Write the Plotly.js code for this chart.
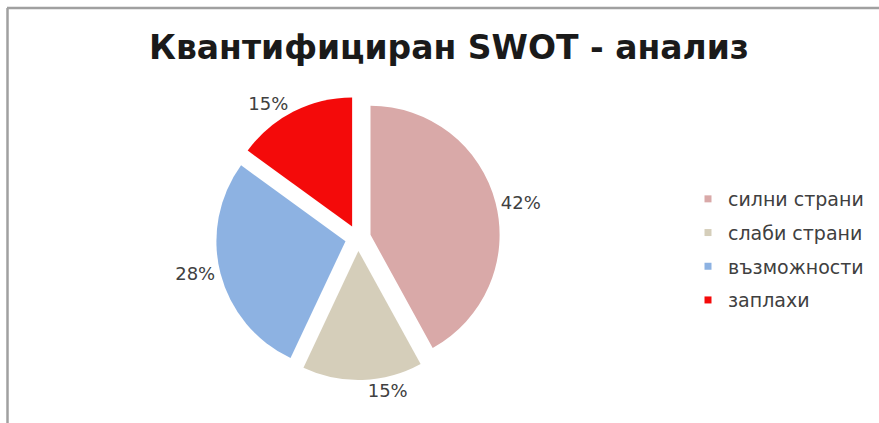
<!DOCTYPE html>
<html>
<head>
<meta charset="utf-8">
<script src="https://cdn.plot.ly/plotly-3.0.1.min.js"></script>
<style>
html,body{margin:0;padding:0;background:#fff;}
#chart{width:879px;height:423px;}
#chart .legend .traces{opacity:1 !important;}
</style>
</head>
<body>
<div id="chart"></div>
<script>
const categories = ['силни страни', 'слаби страни', 'възможности', 'заплахи'];
const values = [42, 15, 28, 15];
const colors = ['#D9A9A8', '#D5CEBA', '#8DB2E2', '#F40A0A'];
const chartTitle = 'Квантифициран SWOT - анализ';

const W = 879, H = 423;

const pie = {
  type: 'pie',
  labels: categories,
  values: values,
  sort: false,
  direction: 'clockwise',
  rotation: 0,
  pull: [0.1, 0.1, 0.1, 0.1],
  marker: {colors: colors, line: {width: 0}},
  textinfo: 'percent',
  texttemplate: '%{percent:.0%}',
  textposition: 'outside',
  outsidetextfont: {family: 'DejaVu Sans', size: 18, color: '#404040'},
  showlegend: false,
  hoverinfo: 'label+percent',
  domain: {x: [216 / W, 500 / W], y: [43 / H, 327 / H]}
};

const legendTraces = categories.map((c, i) => ({
  type: 'scatter',
  mode: 'markers',
  x: [null],
  y: [null],
  name: c,
  legendgroup: 'g' + i,
  visible: 'legendonly',
  marker: {symbol: 'square', size: 7, color: colors[i]},
  showlegend: true,
  hoverinfo: 'skip'
}));

const layout = {
  width: W,
  height: H,
  margin: {l: 0, r: 0, t: 0, b: 0},
  paper_bgcolor: '#ffffff',
  plot_bgcolor: 'rgba(0,0,0,0)',
  title: {
    text: chartTitle,
    font: {family: 'DejaVu Sans', size: 33, color: '#1a1a1a', weight: 'bold'},
    x: 449 / W,
    xanchor: 'center',
    xref: 'container',
    y: 1 - 47 / H,
    yanchor: 'middle',
    yref: 'container'
  },
  xaxis: {visible: false, range: [0, 1]},
  yaxis: {visible: false, range: [0, 1]},
  showlegend: true,
  legend: {
    x: 688 / W,
    xanchor: 'left',
    y: 1 - 180 / H,
    yanchor: 'top',
    font: {family: 'DejaVu Sans', size: 19, color: '#404040'},
    tracegroupgap: 6,
    traceorder: 'grouped',
    bgcolor: 'rgba(0,0,0,0)',
    itemclick: false
  },
  shapes: [
    {type: 'line', xref: 'paper', yref: 'paper', x0: 7 / W, x1: 1, y0: 1 - 8 / H, y1: 1 - 8 / H,
     line: {color: '#a0a0a0', width: 2.5}},
    {type: 'line', xref: 'paper', yref: 'paper', x0: 7.5 / W, x1: 7.5 / W, y0: 0, y1: 1 - 8 / H,
     line: {color: '#a0a0a0', width: 2.5}}
  ]
};

Plotly.newPlot('chart', [pie].concat(legendTraces), layout, {displayModeBar: false, staticPlot: true});
</script>
</body>
</html>
